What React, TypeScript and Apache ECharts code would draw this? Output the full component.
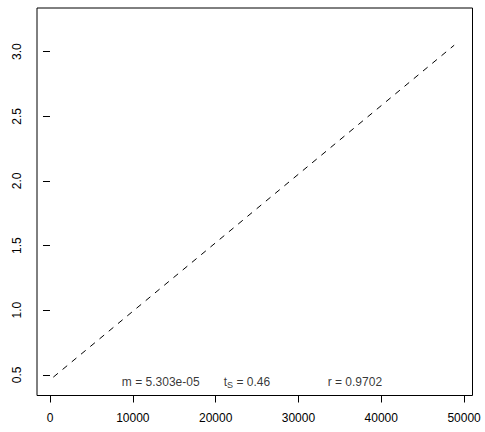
import React, { useEffect, useRef } from "react";
import * as echarts from "echarts";

const xTicks = [0, 10000, 20000, 30000, 40000, 50000];
const yTicks = [0.5, 1.0, 1.5, 2.0, 2.5, 3.0];
const xRange = [-1569, 51013];
const yRange = [0.34, 3.338];
const lineX = [400, 48800];
const lineY = [0.482, 3.05];
const annoX = [13370, 23780, 36810];
const annoY = [0.448, 0.448, 0.448];
const annoText = ["m = 5.303e-05", "t{s|S} = 0.46", "r = 0.9702"];

const FONT = "'Liberation Sans', Arial, Helvetica, sans-serif";

export default function App() {
  const ref = useRef<HTMLDivElement>(null);
  useEffect(() => {
    if (!ref.current) return;
    const chart = echarts.init(ref.current, null, { renderer: "svg" });
    chart.setOption({
      animation: false,
      backgroundColor: "#ffffff",
      textStyle: { fontFamily: FONT },
      grid: {
        left: 37,
        right: 12.5,
        top: 8,
        bottom: 36.5,
        show: true,
        borderColor: "#000",
        borderWidth: 1,
        backgroundColor: "transparent",
      },
      xAxis: {
        type: "value",
        min: xRange[0],
        max: xRange[1],
        axisLine: { show: false },
        splitLine: { show: false },
        axisTick: { show: true, length: 7, customValues: xTicks, lineStyle: { color: "#000" } },
        axisLabel: {
          customValues: xTicks,
          margin: 16,
          fontSize: 12,
          color: "#000",
          fontFamily: FONT,
          formatter: (v: number) => String(v),
        },
      },
      yAxis: {
        type: "value",
        min: yRange[0],
        max: yRange[1],
        axisLine: { show: false },
        splitLine: { show: false },
        axisTick: { show: true, length: 7, customValues: yTicks, lineStyle: { color: "#000" } },
        axisLabel: {
          customValues: yTicks,
          rotate: 90,
          margin: 14,
          fontSize: 12,
          color: "#000",
          fontFamily: FONT,
          formatter: (v: number) => v.toFixed(1),
        },
      },
      series: [
        {
          type: "line",
          data: lineX.map((x, i) => [x, lineY[i]]),
          symbol: "none",
          lineStyle: { color: "#000", width: 1, type: [6, 6] },
        },
        {
          type: "scatter",
          data: annoX.map((x, i) => [x, annoY[i], annoText[i]]),
          symbolSize: 1,
          itemStyle: { color: "rgba(0,0,0,0)" },
          label: {
            show: true,
            position: "inside",
            color: "#000",
            fontSize: 12,
            fontFamily: FONT,
            formatter: (p: any) => p.value[2],
            rich: {
              s: { fontSize: 9, color: "#000", fontFamily: FONT, padding: [7, 0, 0, 0] },
            },
          },
        },
      ],
    });
    return () => chart.dispose();
  }, []);
  return <div ref={ref} style={{ position: "absolute", left: 0, top: 0, width: 485, height: 432 }} />;
}
